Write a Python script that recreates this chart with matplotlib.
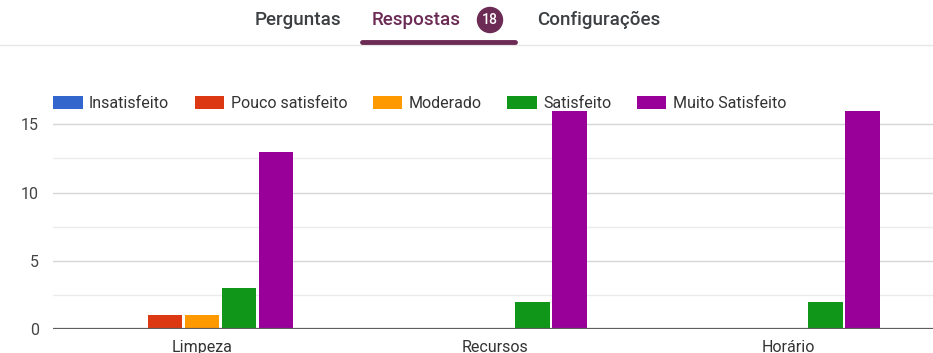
import numpy as np
import matplotlib.pyplot as plt
from matplotlib.patches import Ellipse
from matplotlib.lines import Line2D

plt.rcParams['font.family'] = ['Roboto', 'DejaVu Sans']

categories = ['Limpeza', 'Recursos', 'Horário']
series_names = ['Insatisfeito', 'Pouco satisfeito', 'Moderado', 'Satisfeito', 'Muito Satisfeito']
insatisfeito = [0, 0, 0]
pouco_satisfeito = [1, 0, 0]
moderado = [1, 0, 0]
satisfeito = [3, 2, 2]
muito_satisfeito = [13, 16, 16]
colors = ['#3366cc', '#dc3912', '#ff9900', '#109618', '#990099']
total_respostas = 18

W, H = 933, 353
fig = plt.figure(figsize=(W / 100, H / 100), dpi=100)
ax = fig.add_axes([53 / W, 24 / H, 1 - 53 / W, (329 - 108) / H])

x = np.arange(len(categories))
slot = 0.126
width = 0.118
values = [insatisfeito, pouco_satisfeito, moderado, satisfeito, muito_satisfeito]
handles = []
for i, (name, vals, c) in enumerate(zip(series_names, values, colors)):
    b = ax.bar(x + (i - 2) * slot, vals, width, color=c, label=name, zorder=3)
    handles.append(b)

ax.set_xlim(-0.508, 2.492)
ax.set_ylim(0, 16.2)
ax.set_yticks([0, 5, 10, 15])
ax.set_yticks([2.5, 7.5, 12.5], minor=True)
ax.grid(axis='y', which='major', color='#d6d6d6', lw=1, zorder=0)
ax.grid(axis='y', which='minor', color='#ebebeb', lw=1, zorder=0)
ax.axhline(0, color='#5f5f5f', lw=1.6, zorder=4)
for s in ax.spines.values():
    s.set_visible(False)
ax.tick_params(axis='y', which='both', length=0, pad=10, labelsize=11.5, labelcolor='#444444')
ax.tick_params(axis='x', length=0, pad=8, labelsize=11.5, labelcolor='#333333')
ax.set_xticks(x)
ax.set_xticklabels(categories)

leg = ax.legend(handles=handles, loc='lower left', bbox_to_anchor=(0.0, 0.985), ncol=5,
                frameon=False, fontsize=11.5, handlelength=1.85, handleheight=0.85,
                handletextpad=0.4, columnspacing=1.6, borderaxespad=0, borderpad=0)
for t in leg.get_texts():
    t.set_color('#333333')

# abas do topo
fy = 1 - 20 / H
tab = dict(ha='center', va='center', fontsize=13.5, weight='medium')
fig.text(298 / W, fy, 'Perguntas', color='#3c4043', **tab)
fig.text(416 / W, fy, 'Respostas', color='#6b2b55', **tab)
fig.text(599 / W, fy, 'Configurações', color='#3c4043', **tab)
fig.patches.append(Ellipse((490 / W, fy), 25 / W, 25 / H, transform=fig.transFigure, color='#6b2b55'))
fig.text(490 / W, fy, str(total_respostas), ha='center', va='center', fontsize=10,
         weight='medium', color='white')
fig.lines.append(Line2D([0, 1], [1 - 45 / H] * 2, transform=fig.transFigure, color='#e6e6e6', lw=1))
fig.lines.append(Line2D([362 / W, 515 / W], [1 - 41.5 / H] * 2, transform=fig.transFigure,
                        color='#6b2b55', lw=3.5, solid_capstyle='round'))

fig.savefig('out.png', dpi=100)
